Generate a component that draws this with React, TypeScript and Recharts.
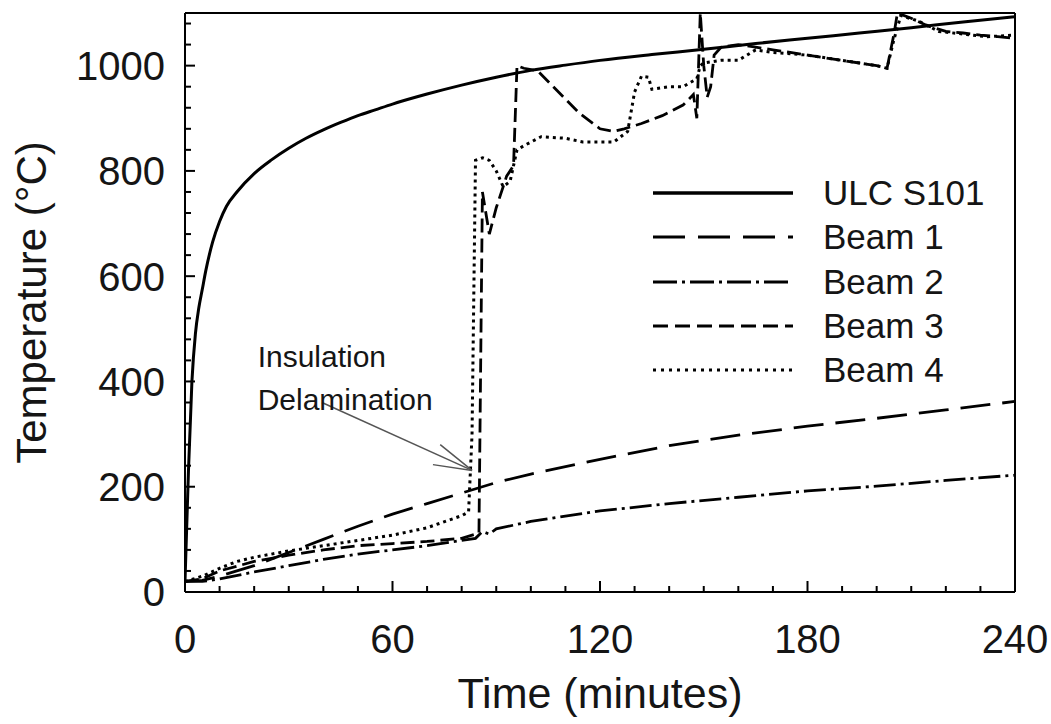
import React from "react";
import {
  LineChart,
  Line,
  XAxis,
  YAxis,
  ReferenceLine,
  ReferenceDot,
  Legend,
} from "recharts";

const FONT = "'Liberation Sans', Arial, Helvetica, sans-serif";
const INK = "#151515";

// time (min) / temperature (°C)
const ULC_TIME = [0, 1, 2, 3, 4, 5, 6, 8, 10, 12, 15, 20, 25, 30, 35, 40, 45, 50, 55, 60, 70, 80, 90, 100, 110, 120, 135, 150, 165, 180, 195, 210, 225, 240];
const ULC_TEMP = [20, 230, 400, 490, 540, 575, 610, 665, 704, 733, 760, 795, 821, 843, 862, 878, 892, 905, 916, 927, 946, 963, 978, 991, 1001, 1010, 1021, 1031, 1042, 1052, 1062, 1072, 1083, 1093];

const BEAM1_TIME = [0, 5, 10, 15, 20, 30, 40, 50, 60, 70, 80, 90, 100, 120, 140, 160, 180, 200, 220, 240];
const BEAM1_TEMP = [20, 22, 30, 40, 50, 75, 100, 125, 148, 168, 188, 208, 224, 252, 278, 298, 315, 330, 346, 362];

const BEAM2_TIME = [0, 5, 10, 20, 30, 40, 50, 60, 70, 80, 84, 86, 88, 90, 100, 120, 140, 160, 180, 200, 220, 240];
const BEAM2_TEMP = [20, 20, 25, 38, 50, 62, 72, 80, 88, 98, 102, 115, 110, 120, 134, 154, 168, 180, 192, 201, 212, 222];

const BEAM3_TIME = [0, 5, 10, 20, 30, 40, 50, 60, 70, 80, 85, 86, 88, 90, 93, 95, 96, 98, 102, 108, 114, 120, 124, 127, 132, 138, 144, 147, 148, 149, 150, 151, 152, 153, 155, 160, 165, 170, 175, 180, 185, 190, 195, 200, 203, 205, 206, 210, 215, 220, 225, 230, 235, 240];
const BEAM3_TEMP = [20, 25, 40, 58, 70, 80, 88, 92, 96, 102, 112, 760, 680, 730, 790, 810, 1000, 995, 990, 950, 910, 880, 875, 880, 890, 905, 925, 945, 900, 1100, 1000, 940, 960, 1020, 1035, 1040, 1035, 1030, 1025, 1020, 1015, 1010, 1005, 1000, 995, 1060, 1100, 1090, 1075, 1065, 1062, 1058, 1055, 1052];

const BEAM4_TIME = [0, 5, 10, 15, 20, 30, 40, 50, 60, 70, 80, 82, 83, 84, 86, 88, 90, 92, 94, 96, 98, 103, 110, 115, 124, 128, 130, 132, 134, 135, 140, 144, 148, 149, 150, 155, 160, 165, 170, 180, 190, 200, 203, 205, 207, 212, 218, 225, 232, 240];
const BEAM4_TEMP = [20, 30, 45, 58, 66, 78, 88, 98, 108, 122, 145, 152, 300, 820, 825, 820, 800, 770, 780, 840, 848, 865, 862, 855, 855, 875, 950, 980, 978, 955, 960, 960, 975, 1000, 1005, 1010, 1010, 1030, 1025, 1020, 1010, 1000, 995, 1050, 1095, 1085, 1065, 1060, 1055, 1058];

const X_TICKS = [0, 10, 20, 30, 40, 50, 60, 70, 80, 90, 100, 110, 120, 130, 140, 150, 160, 170, 180, 190, 200, 210, 220, 230, 240];
const Y_TICKS = [0, 40, 80, 120, 160, 200, 240, 280, 320, 360, 400, 440, 480, 520, 560, 600, 640, 680, 720, 760, 800, 840, 880, 920, 960, 1000, 1040, 1080];

const SERIES_NAMES = ["ULC S101", "Beam 1", "Beam 2", "Beam 3", "Beam 4"];

const toPoints = (times: number[], temps: number[]) =>
  times.map((t, i) => ({ t, T: temps[i] }));

const SERIES = [
  { name: SERIES_NAMES[0], data: toPoints(ULC_TIME, ULC_TEMP), dash: undefined, width: 3, type: "monotone" },
  { name: SERIES_NAMES[1], data: toPoints(BEAM1_TIME, BEAM1_TEMP), dash: "30 12", width: 2.8, type: "linear" },
  { name: SERIES_NAMES[2], data: toPoints(BEAM2_TIME, BEAM2_TEMP), dash: "22 5 3 5", width: 2.8, type: "linear" },
  { name: SERIES_NAMES[3], data: toPoints(BEAM3_TIME, BEAM3_TEMP), dash: "14 6", width: 2.8, type: "linear" },
  { name: SERIES_NAMES[4], data: toPoints(BEAM4_TIME, BEAM4_TEMP), dash: "3 4", width: 3, type: "linear" },
];

const LEGEND_DASH = [undefined, "32 13", "24 5 3 5", "15 7", "3 5"];

// ticks point into the plot: native tick line is the minor length (tickSize -6),
// majors get an extra stub, labels only on majors
const XTick = (props: any) => {
  const { x, y, payload } = props;
  const major = payload.value % 60 === 0;
  return (
    <g>
      {major && <line x1={x} x2={x} y1={y} y2={y - 5} stroke="#000" strokeWidth={2} />}
      {major && (
        <text x={x} y={y + 67} textAnchor="middle" fontSize={40} fontFamily={FONT} fill={INK}>
          {payload.value}
        </text>
      )}
    </g>
  );
};

const YTick = (props: any) => {
  const { x, y, payload } = props;
  const major = payload.value % 200 === 0;
  return (
    <g>
      {major && <line x1={x} x2={x + 4} y1={y} y2={y} stroke="#000" strokeWidth={2} />}
      {major && (
        <text x={x - 26} y={y} dy="0.36em" textAnchor="end" fontSize={40} fontFamily={FONT} fill={INK}>
          {payload.value}
        </text>
      )}
    </g>
  );
};

const LegendBox = () => (
  <div style={{ fontFamily: FONT, color: INK }}>
    {SERIES_NAMES.map((name, i) => (
      <div key={name} style={{ display: "flex", alignItems: "center", height: 44.3 }}>
        <svg width={140} height={10} style={{ marginRight: 30 }}>
          <line x1={0} x2={140} y1={5} y2={5} stroke="#000" strokeWidth={i === 0 ? 3.5 : 3} strokeDasharray={LEGEND_DASH[i]} />
        </svg>
        <span style={{ fontSize: 35, lineHeight: "44px" }}>{name}</span>
      </div>
    ))}
  </div>
);

export default function App() {
  return (
    <div style={{ position: "absolute", left: 0, top: 0, width: 1051, height: 724, background: "#fff" }}>
      <LineChart width={1051} height={724} margin={{ top: 13, right: 36, left: 0, bottom: 0 }}>
        <XAxis
          type="number"
          dataKey="t"
          domain={[0, 240]}
          ticks={X_TICKS}
          interval={0}
          tickSize={-6}
          tickMargin={0}
          tickLine={{ stroke: "#000", strokeWidth: 2 }}
          tick={<XTick />}
          height={132}
          axisLine={{ stroke: "#000", strokeWidth: 2 }}
          allowDataOverflow
          label={{
            content: (p: any) => (
              <text
                x={p.viewBox.x + p.viewBox.width / 2}
                y={p.viewBox.y + 116}
                textAnchor="middle"
                fontSize={43}
                fontFamily={FONT}
                fill={INK}
              >
                Time (minutes)
              </text>
            ),
          }}
        />
        <YAxis
          type="number"
          dataKey="T"
          domain={[0, 1100]}
          ticks={Y_TICKS}
          interval={0}
          tickSize={-6}
          tickMargin={0}
          tickLine={{ stroke: "#000", strokeWidth: 2 }}
          tick={<YTick />}
          width={185}
          axisLine={{ stroke: "#000", strokeWidth: 2 }}
          allowDataOverflow
          label={{
            content: (p: any) => {
              const cx = p.viewBox.x + 31;
              const cy = p.viewBox.y + p.viewBox.height / 2;
              return (
                <text
                  x={cx}
                  y={cy}
                  transform={`rotate(-90 ${cx} ${cy})`}
                  textAnchor="middle"
                  dominantBaseline="central"
                  fontSize={42}
                  fontFamily={FONT}
                  fill={INK}
                >
                  Temperature (°C)
                </text>
              );
            },
          }}
        />
        <ReferenceLine y={1100} stroke="#000" strokeWidth={2} />
        <ReferenceLine x={240} stroke="#000" strokeWidth={2} />

        {SERIES.map((s) => (
          <Line
            key={s.name}
            name={s.name}
            data={s.data}
            dataKey="T"
            type={s.type as any}
            stroke="#000"
            strokeWidth={s.width}
            strokeDasharray={s.dash}
            dot={false}
            activeDot={false}
            isAnimationActive={false}
          />
        ))}

        <ReferenceDot
          x={21}
          y={448}
          r={0}
          stroke="none"
          fill="none"
          label={{ value: "Insulation", position: "right", offset: 0, fontSize: 30, fontFamily: FONT, fill: INK }}
        />
        <ReferenceDot
          x={21}
          y={366}
          r={0}
          stroke="none"
          fill="none"
          label={{ value: "Delamination", position: "right", offset: 0, fontSize: 30, fontFamily: FONT, fill: INK }}
        />
        <ReferenceLine segment={[{ x: 39.6, y: 360 }, { x: 83, y: 231 }]} stroke="#555" strokeWidth={1.5} />
        <ReferenceLine segment={[{ x: 73.8, y: 280 }, { x: 83, y: 231 }]} stroke="#555" strokeWidth={1.5} />
        <ReferenceLine segment={[{ x: 71.7, y: 242 }, { x: 83, y: 231 }]} stroke="#555" strokeWidth={1.5} />

        <Legend
          layout="vertical"
          align="center"
          verticalAlign="middle"
          content={<LegendBox />}
          wrapperStyle={{ left: 653, top: 171, width: 380 }}
        />
      </LineChart>
    </div>
  );
}
